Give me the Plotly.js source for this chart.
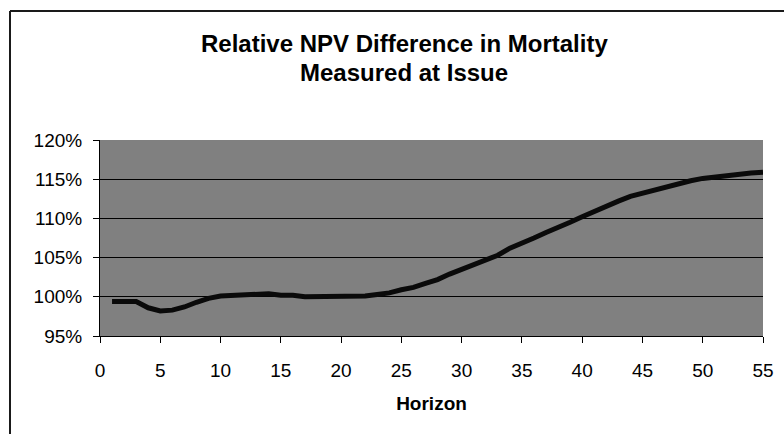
<!DOCTYPE html>
<html>
<head>
<meta charset="utf-8">
<script src="https://cdn.plot.ly/plotly-3.0.1.min.js"></script>
<style>html,body{margin:0;padding:0;background:#fff;}#chart{width:784px;height:434px;}</style>
</head>
<body>
<div id="chart"></div>
<script>
const horizon = [1,2,3,4,5,6,7,8,9,10,11,12,13,14,15,16,17,18,19,20,21,22,23,24,25,26,27,28,29,30,31,32,33,34,35,36,37,38,39,40,41,42,43,44,45,46,47,48,49,50,51,52,53,54,55];
const relativeNPV = [99.4,99.4,99.4,98.6,98.2,98.3,98.7,99.3,99.8,100.1,100.2,100.2,100.4,100.4,100.2,100.2,100.0,100.0,100.0,100.0,100.0,100.1,100.3,100.5,100.9,101.2,101.7,102.2,102.9,103.5,104.0,104.6,105.3,106.2,106.8,107.5,108.2,108.8,109.5,110.2,110.9,111.6,112.2,112.8,113.2,113.7,114.1,114.5,114.8,115.1,115.3,115.5,115.7,115.8,115.9];
const titleLines = ["Relative NPV Difference in Mortality", "Measured at Issue"];
const xTitle = "Horizon";

const FONT = "Liberation Sans, Arial, sans-serif";
const py = p => (336 - p) / 196;   // pixel row -> paper y
const px = p => (p - 100) / 663;   // pixel column -> paper x

const trace = {
  x: horizon, y: relativeNPV, type: 'scatter', mode: 'lines',
  line: {color: '#0a0a0a', width: 5}, hoverinfo: 'skip'
};
const layout = {
  width: 784, height: 434,
  margin: {l: 100, r: 21, t: 140, b: 98},
  paper_bgcolor: '#ffffff', plot_bgcolor: '#808080',
  showlegend: false,
  font: {family: FONT, color: '#000', size: 19},
  annotations: [
    {text: '<b>' + titleLines[0] + '</b>', xref: 'paper', yref: 'paper', x: px(404), y: py(44),
     xanchor: 'center', yanchor: 'middle', showarrow: false, font: {size: 24, family: FONT, color: '#000'}},
    {text: '<b>' + titleLines[1] + '</b>', xref: 'paper', yref: 'paper', x: px(404), y: py(72),
     xanchor: 'center', yanchor: 'middle', showarrow: false, font: {size: 24, family: FONT, color: '#000'}}
  ],
  xaxis: {range: [0, 55], dtick: 5, tick0: 0, showgrid: false, zeroline: false,
          showline: true, linecolor: '#000', linewidth: 1,
          ticks: 'outside', ticklen: 6, tickcolor: '#000', ticklabelstandoff: 11,
          tickfont: {size: 19, family: FONT},
          title: {text: xTitle, font: {size: 19, weight: 'bold', family: FONT}, standoff: 16}},
  yaxis: {range: [95, 120], dtick: 5, tick0: 95, ticksuffix: '%', showgrid: true, gridcolor: '#000', gridwidth: 1,
          zeroline: false, showline: true, linecolor: '#000', linewidth: 1,
          ticks: 'outside', ticklen: 6, tickcolor: '#000', ticklabelstandoff: 7,
          tickfont: {size: 19, family: FONT}},
  shapes: [
    {type: 'line', xref: 'paper', yref: 'paper', x0: px(10), x1: px(10), y0: py(11), y1: py(450),
     line: {color: '#1a1a1a', width: 2}},
    {type: 'line', xref: 'paper', yref: 'paper', x0: px(10), x1: px(800), y0: py(11), y1: py(11),
     line: {color: '#1a1a1a', width: 2}}
  ]
};
Plotly.newPlot('chart', [trace], layout, {staticPlot: true, displayModeBar: false});
</script>
</body>
</html>
